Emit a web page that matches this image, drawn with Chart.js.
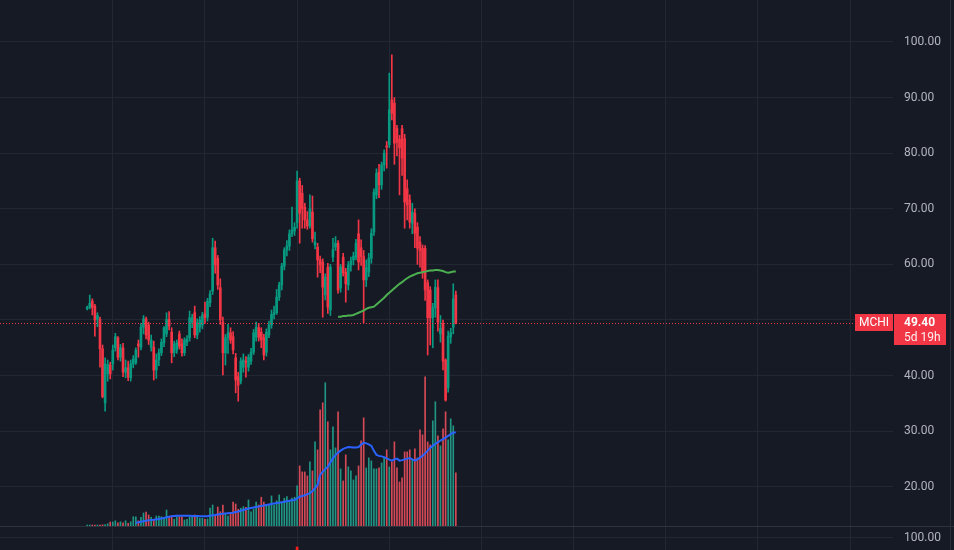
<!DOCTYPE html>
<html>
<head>
    <title>MCHI monthly</title>
    <script src="https://cdn.jsdelivr.net/npm/chart.js"></script>
    <style>
        html, body {
            margin: 0;
            padding: 0;
            background: #161a25;
        }
        canvas {
            display: block;
        }
    </style>
</head>
<body>
    <canvas id="mchiChart" width="954" height="550"></canvas>

    <script>
        // monthly candles, index 0 = first month shown
        const opens = [52.0,52.3,53.4,52.5,50.1,50.1,44.8,35.1,40.3,41.9,
            42.1,45.0,46.8,43.3,45.0,40.6,41.4,39.6,42.1,42.3,
            45.7,45.1,48.7,50.2,49.1,45.1,45.1,41.0,42.8,44.1,
            45.9,47.5,50.1,47.8,44.1,44.6,47.5,45.7,44.1,46.0,
            46.8,49.5,51.3,47.3,48.7,49.1,51.1,50.5,53.1,55.2,
            63.0,61.1,55.8,49.6,44.1,46.8,47.7,47.0,43.2,39.8,
            39.0,41.5,42.6,41.5,42.6,44.2,46.9,48.6,47.8,46.8,
            44.2,47.3,49.1,51.0,51.3,54.1,56.3,59.7,62.6,63.3,
            65.5,66.0,67.5,75.0,72.8,70.3,68.0,66.9,69.4,63.5,
            63.1,60.8,60.4,54.5,59.5,51.8,61.3,63.1,63.8,55.8,
            61.3,58.6,56.3,59.9,60.8,61.3,65.5,63.0,61.4,57.2,
            58.6,61.1,65.8,72.5,76.6,74.3,77.9,81.3,81.5,89.6,
            89.0,84.5,82.5,84.4,82.6,73.6,71.6,67.4,69.2,66.7,
            64.0,62.9,62.9,56.7,55.4,50.4,52.2,55.8,47.5,49.3,
            42.8,37.8,46.9,48.7,54.5];
        const highs = [52.5,54.5,53.8,52.8,51.3,50.5,45.5,43.2,42.8,42.4,
            45.5,47.6,47.0,45.6,45.8,42.8,42.6,42.8,43.6,45.0,
            46.4,49.4,50.8,50.5,49.6,47.3,46.2,43.9,44.8,46.6,
            48.8,51.3,51.5,48.6,46.2,46.4,48.0,46.6,46.8,47.2,
            51.6,51.0,52.5,50.2,50.6,51.4,53.2,53.9,55.3,64.7,
            64.2,61.6,57.4,50.5,47.4,49.2,48.6,47.9,44.0,40.6,
            43.2,43.9,43.4,43.8,44.9,48.3,49.6,49.4,48.6,47.4,
            48.4,49.8,51.8,52.5,55.5,56.8,60.2,63.0,64.3,66.2,
            70.3,67.5,76.8,75.5,74.2,71.0,69.5,72.5,72.3,65.8,
            63.8,61.5,61.0,58.3,60.2,60.0,64.7,65.0,64.3,60.0,
            62.0,59.3,60.5,61.3,62.2,64.5,68.0,64.4,62.5,60.8,
            62.0,66.4,73.6,77.2,78.0,78.4,80.6,82.1,94.4,97.7,
            90.0,85.0,83.2,85.0,83.4,75.2,72.5,71.0,70.0,67.5,
            65.0,63.5,63.4,57.2,56.0,53.0,57.2,57.2,50.8,50.0,
            43.0,48.0,48.5,56.5,55.2];
        const lows = [51.8,52.0,50.9,47.1,48.8,41.5,36.0,33.6,39.0,39.4,
            41.0,44.4,42.8,42.6,39.8,39.6,39.1,39.0,41.4,42.0,
            43.3,44.6,47.5,46.6,45.6,44.4,39.2,39.5,41.8,43.6,
            45.2,47.0,48.2,42.3,43.4,44.0,44.8,43.5,43.6,45.4,
            46.2,48.6,46.8,46.6,47.8,48.4,49.4,49.8,52.4,54.6,
            58.4,55.5,49.2,40.1,41.9,44.0,45.8,43.9,36.9,35.4,
            38.5,40.6,39.7,40.8,42.0,43.8,46.2,46.2,45.0,42.8,
            43.5,46.8,48.5,50.2,51.0,53.5,55.4,59.0,61.5,62.5,
            65.0,65.2,66.5,63.8,66.5,66.5,66.3,66.5,64.0,62.8,
            57.7,58.5,50.5,53.6,51.2,50.8,60.5,62.5,54.8,55.0,
            57.9,53.2,55.4,58.8,59.9,60.8,59.0,59.8,49.5,56.0,
            57.8,60.2,65.2,71.8,72.0,73.5,76.8,77.3,81.0,86.0,
            78.0,79.5,72.5,76.0,66.5,68.0,66.5,65.5,63.0,60.0,
            59.5,57.5,53.5,43.7,45.5,45.0,50.5,48.0,46.0,41.0,
            35.4,37.0,45.8,47.5,49.3];
        const closes = [52.3,53.0,52.2,50.0,50.8,44.8,36.2,42.1,42.0,40.3,
            44.6,47.0,43.3,45.0,40.6,41.4,39.7,42.1,43.0,44.6,
            45.3,48.7,50.2,47.3,46.4,46.4,41.0,42.8,44.1,46.0,
            48.6,50.1,48.9,44.1,45.7,45.9,45.3,44.1,46.4,46.6,
            50.4,50.4,47.3,49.5,50.0,50.9,50.4,53.4,54.7,63.0,
            59.9,56.3,50.0,44.1,46.8,47.7,46.4,44.6,39.2,38.3,
            42.6,42.8,42.4,43.3,44.2,47.7,48.7,46.9,46.4,43.7,
            47.8,49.1,51.0,51.3,54.1,56.3,59.7,62.6,63.3,65.5,
            66.2,66.7,75.0,69.2,70.0,68.0,66.9,70.0,64.6,64.0,
            60.8,59.9,55.9,57.7,52.3,59.5,62.6,63.8,55.4,59.5,
            58.5,56.5,59.9,60.6,61.5,63.8,60.4,61.4,57.2,59.4,
            61.1,65.6,73.0,76.4,74.3,77.9,80.0,81.1,87.8,87.2,
            81.8,82.0,81.0,79.1,71.2,70.7,67.6,69.4,65.6,62.9,
            62.5,58.6,55.4,50.4,50.4,52.2,55.9,49.6,48.5,42.6,
            35.6,47.1,47.7,53.8,49.4];
        // volume, millions of shares
        const volumes = [0.4,0.4,0.4,0.4,0.4,0.4,0.5,0.6,0.9,1.6,
            1.6,2.1,1.3,1.7,1.3,2.1,1.1,1.7,3.7,3.7,
            2.1,3.5,5.2,5.6,4.4,3.5,2.7,4.0,4.0,3.7,
            3.5,6.4,3.7,4.0,2.7,3.7,3.7,3.7,2.4,2.7,
            3.7,3.5,4.4,3.5,3.1,3.1,2.7,2.8,7.2,8.4,
            4.0,7.6,5.7,8.4,5.1,4.0,5.3,9.6,8.8,6.7,
            7.1,7.7,7.5,10.4,5.7,6.7,9.6,8.4,11.5,9.6,
            8.0,8.4,12.0,8.4,10.1,12.4,9.3,11.1,11.7,10.1,
            11.1,11.5,16.0,24.0,21.6,21.6,20.0,25.6,22.0,33.6,
            30.4,46.4,49.2,57.2,41.6,30.4,39.6,31.2,45.6,22.8,
            18.0,28.4,23.6,22.0,18.4,20.0,24.0,34.0,43.2,23.2,
            27.2,26.0,22.8,22.8,23.2,25.2,27.2,30.4,23.6,25.6,
            33.6,23.2,17.6,19.2,29.6,29.6,30.4,26.4,30.8,27.2,
            38.4,36.4,59.6,33.6,32.4,42.0,49.6,36.0,32.0,38.8,
            45.6,34.4,42.8,40.0,21.2];

        // price moving average (green), starts at candle 98
        const priceMaStart = 98;
        const priceMa = [50.6,50.6,50.7,50.7,50.8,50.8,50.9,51.1,51.3,51.5,
            51.7,52.0,52.2,52.3,52.4,52.8,53.2,53.6,54.0,54.5,
            54.9,55.3,55.7,56.1,56.5,56.8,57.2,57.5,57.8,58.0,
            58.2,58.4,58.5,58.6,58.7,58.8,58.9,58.9,59.0,59.0,
            58.9,58.8,58.6,58.5,58.6,58.7,58.7];
        // volume moving average (blue), starts at candle 19
        const volMaStart = 19;
        const volMa = [1.3,1.5,1.7,1.9,2.1,2.3,2.4,2.5,2.7,2.8,
            3.0,3.2,3.5,3.7,3.9,4.0,4.1,4.1,4.1,4.1,
            4.1,4.1,4.0,4.0,4.0,3.9,3.9,3.9,3.9,4.1,
            4.3,4.4,4.6,4.8,4.9,5.0,5.1,5.2,5.3,5.6,
            5.8,6.1,6.4,6.7,7.0,7.2,7.4,7.6,7.8,8.0,
            8.2,8.4,8.6,8.8,9.0,9.2,9.3,9.5,9.7,9.9,
            10.1,10.3,10.4,11.0,11.7,12.0,12.3,12.7,13.1,14.0,
            15.1,16.4,20.4,21.6,22.7,23.7,25.4,27.1,28.3,29.3,
            30.1,30.8,31.2,31.5,31.4,31.3,31.3,31.5,32.5,33.3,
            33.0,32.6,32.0,30.0,28.4,28.0,27.8,27.5,27.0,26.5,
            26.1,26.6,26.9,26.1,26.3,26.6,26.9,27.1,26.6,26.1,
            26.6,27.3,28.0,29.0,30.1,31.1,32.0,32.8,33.5,34.1,
            34.7,35.3,36.0,36.7,37.3,37.3];

        // lower pane indicator (only its top edge is visible)
        const indIndex = [82];
        const indValue = [23];

        const priceTicks = [20, 30, 40, 50, 60, 70, 80, 90, 100];
        const yearGrid = [10, 46, 82, 118, 154, 190, 226, 262, 298];
        const lowerPaneTick = 100;
        const symbol = "MCHI";
        const countdown = "5d 19h";

        const BG = "#161a25";
        const GRID = "#232733";
        const UP = "#089981";
        const DOWN = "#f23645";
        const VOL_UP = "rgba(34,171,148,0.85)";
        const VOL_DOWN = "rgba(247,82,95,0.85)";
        const AXIS_TEXT = "#b2b5be";

        const isUp = closes.map((c, i) => c >= opens[i]);
        const candleColors = isUp.map(u => u ? UP : DOWN);

        const wickData = highs.map((h, i) => ({ x: i, y: [lows[i], h] }));
        const bodyData = opens.map((o, i) => ({ x: i, y: [o, closes[i]] }));
        const volData = volumes.map((v, i) => ({ x: i, y: v }));
        const priceMaData = priceMa.map((v, k) => ({ x: priceMaStart + k, y: v }));
        const volMaData = volMa.map((v, k) => ({ x: volMaStart + k, y: v }));
        const indData = indIndex.map((x, k) => ({ x: x, y: [0, indValue[k]] }));

        const paneDecor = {
            id: "paneDecor",
            beforeDraw(chart) {
                const ctx = chart.ctx;
                ctx.save();
                ctx.fillStyle = BG;
                ctx.fillRect(0, 0, chart.width, chart.height);
                ctx.restore();
            },
            afterDatasetsDraw(chart) {
                const ctx = chart.ctx;
                const area = chart.chartArea;
                const y = Math.round(chart.scales.y.getPixelForValue(closes[closes.length - 1])) + 0.5;
                ctx.save();
                ctx.strokeStyle = DOWN;
                ctx.lineWidth = 1;
                ctx.setLineDash([1, 2]);
                ctx.beginPath();
                ctx.moveTo(area.left, y);
                ctx.lineTo(area.right - 38, y);
                ctx.stroke();
                ctx.restore();
            },
            afterDraw(chart) {
                const ctx = chart.ctx;
                const area = chart.chartArea;
                const W = chart.width;
                const last = closes[closes.length - 1];
                const y = Math.round(chart.scales.y.getPixelForValue(last));

                ctx.save();
                // pane separator at the volume base
                const sep = Math.round(chart.scales.vol.getPixelForValue(0)) + 0.5;
                ctx.strokeStyle = "#2f3340";
                ctx.lineWidth = 1;
                ctx.beginPath();
                ctx.moveTo(0, sep);
                ctx.lineTo(W, sep);
                ctx.stroke();

                // lower pane grid line + label
                const ly = Math.round(chart.scales.ind.getPixelForValue(lowerPaneTick)) + 0.5;
                ctx.strokeStyle = GRID;
                ctx.beginPath();
                ctx.moveTo(area.left, ly);
                ctx.lineTo(area.right, ly);
                ctx.stroke();
                ctx.fillStyle = AXIS_TEXT;
                ctx.font = "12px Roboto, 'Liberation Sans', sans-serif";
                ctx.textBaseline = "middle";
                ctx.textAlign = "left";
                ctx.fillText(lowerPaneTick.toFixed(2), area.right + 11, ly);

                // right border
                ctx.strokeStyle = "#2a2e39";
                ctx.beginPath();
                ctx.moveTo(W - 3.5, 0);
                ctx.lineTo(W - 3.5, chart.height);
                ctx.stroke();

                // symbol tag
                ctx.fillStyle = DOWN;
                ctx.fillRect(area.right - 38, y - 9, 38, 17);
                ctx.fillStyle = "#ffffff";
                ctx.textAlign = "center";
                ctx.font = "12px Roboto, 'Liberation Sans', sans-serif";
                ctx.fillText(symbol, area.right - 19, y);

                // price tag
                ctx.fillStyle = DOWN;
                ctx.fillRect(area.right + 1, y - 9, 52, 31);
                ctx.textAlign = "left";
                ctx.fillStyle = "#ffffff";
                ctx.font = "bold 12px Roboto, 'Liberation Sans', sans-serif";
                ctx.fillText(last.toFixed(2), area.right + 11, y);
                ctx.font = "12px Roboto, 'Liberation Sans', sans-serif";
                ctx.fillStyle = "rgba(255,255,255,0.92)";
                ctx.fillText(countdown, area.right + 11, y + 15);
                ctx.restore();
            }
        };

        Chart.defaults.font.family = "Roboto, 'Liberation Sans', sans-serif";

        new Chart(document.getElementById("mchiChart"), {
            type: "bar",
            data: {
                datasets: [
                    {
                        type: "line",
                        data: priceMaData,
                        borderColor: "#4caf50",
                        borderWidth: 2,
                        pointRadius: 0,
                        tension: 0,
                        order: 0
                    },
                    {
                        data: bodyData,
                        backgroundColor: candleColors,
                        barThickness: 2,
                        minBarLength: 1,
                        grouped: false,
                        order: 1
                    },
                    {
                        data: wickData,
                        backgroundColor: candleColors,
                        barThickness: 1,
                        grouped: false,
                        order: 2
                    },
                    {
                        type: "line",
                        data: volMaData,
                        yAxisID: "vol",
                        borderColor: "#2962ff",
                        borderWidth: 2,
                        pointRadius: 0,
                        tension: 0,
                        order: 3
                    },
                    {
                        data: volData,
                        yAxisID: "vol",
                        backgroundColor: isUp.map(u => u ? VOL_UP : VOL_DOWN),
                        barThickness: 1,
                        grouped: false,
                        order: 4
                    },
                    {
                        data: indData,
                        yAxisID: "ind",
                        backgroundColor: "#ff1e1e",
                        barThickness: 2,
                        grouped: false,
                        order: 5
                    }
                ]
            },
            options: {
                responsive: false,
                animation: false,
                layout: { padding: 0 },
                plugins: {
                    legend: { display: false },
                    tooltip: { enabled: false }
                },
                scales: {
                    x: {
                        type: "linear",
                        min: -34.06,
                        max: 314.77,
                        offset: false,
                        grid: { color: GRID, drawTicks: false, offset: false },
                        border: { display: false },
                        ticks: { display: false },
                        afterBuildTicks: s => { s.ticks = yearGrid.map(v => ({ value: v })); }
                    },
                    y: {
                        position: "right",
                        min: 8.63,
                        max: 107.55,
                        grid: { color: GRID, drawTicks: false },
                        border: { display: false },
                        ticks: {
                            color: AXIS_TEXT,
                            padding: 11,
                            font: { size: 12 },
                            callback: v => Number(v).toFixed(2)
                        },
                        afterBuildTicks: s => { s.ticks = priceTicks.map(v => ({ value: v })); },
                        afterFit: s => { s.width = 61; s.paddingTop = 0; s.paddingBottom = 0; }
                    },
                    vol: {
                        display: false,
                        min: -9.58,
                        max: 210
                    },
                    ind: {
                        display: false,
                        min: 0,
                        max: 4231
                    }
                }
            },
            plugins: [paneDecor]
        });
    </script>
</body>
</html>
